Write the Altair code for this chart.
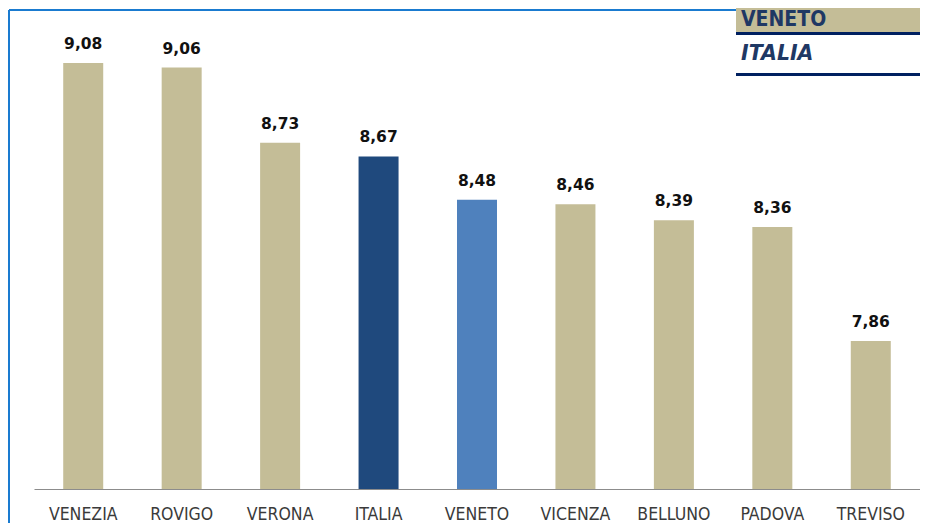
import altair as alt
import pandas as pd

# ---- data ----
categories = ["VENEZIA", "ROVIGO", "VERONA", "ITALIA", "VENETO", "VICENZA", "BELLUNO", "PADOVA", "TREVISO"]
values = [9.08, 9.06, 8.73, 8.67, 8.48, 8.46, 8.39, 8.36, 7.86]
bar_colors = ["#c4bd97", "#c4bd97", "#c4bd97", "#1f497d", "#4f81bd", "#c4bd97", "#c4bd97", "#c4bd97", "#c4bd97"]
legend_items = ["VENETO", "ITALIA"]

df = pd.DataFrame({
    "cat": categories,
    "val": values,
    "color": bar_colors,
    "label": [f"{v:.2f}".replace(".", ",") for v in values],
})

COND = "DejaVu Sans Condensed, Liberation Sans Narrow, DejaVu Sans"
YMIN, YMAX = 7.2105, 9.3126

x_enc = alt.X("cat:N", sort=categories, title=None,
              scale=alt.Scale(paddingInner=0.595, paddingOuter=0.2975),
              axis=alt.Axis(labelAngle=0, labelFont=COND, labelFontSize=17.5,
                            labelColor="#3a3a3a", ticks=False, tickSize=0,
                            labelPadding=16, domainColor="#8c8c8c", domainWidth=1.2,
                            grid=False))
y_enc = alt.Y("val:Q", title=None,
              scale=alt.Scale(domain=[YMIN, YMAX], zero=False, nice=False),
              axis=None)

base = alt.Chart(df)
bars = base.mark_bar(width=40, clip=True).encode(
    x=x_enc, y=y_enc, y2=alt.Y2(datum=YMIN), color=alt.Color("color:N", scale=None))
labels = base.mark_text(font="DejaVu Sans", fontWeight="bold", fontSize=15.5,
                        color="#111111", baseline="alphabetic", dy=-14).encode(
    x=alt.X("cat:N", sort=categories), y="val:Q", text="label:N")

one = pd.DataFrame({"k": [0]})
border_top = alt.Chart(one).mark_rule(color="#1a7bd0", strokeWidth=2).encode(
    x=alt.value(-25), x2=alt.value(702), y=alt.value(0))
border_left = alt.Chart(one).mark_rule(color="#1a7bd0", strokeWidth=2).encode(
    x=alt.value(-25), y=alt.value(0), y2=alt.value(520))
tan_box = alt.Chart(one).mark_rect(color="#c4bd97").encode(
    x=alt.value(702), x2=alt.value(900), y=alt.value(-2), y2=alt.value(22))
navy1 = alt.Chart(one).mark_rule(color="#002060", strokeWidth=3).encode(
    x=alt.value(702), x2=alt.value(900), y=alt.value(23.5))
navy2 = alt.Chart(one).mark_rule(color="#002060", strokeWidth=3).encode(
    x=alt.value(702), x2=alt.value(900), y=alt.value(64.5))
t_veneto = alt.Chart(pd.DataFrame({"t": [legend_items[0]]})).mark_text(
    font=COND, fontWeight="bold", fontSize=21, color="#1f3864",
    align="left", baseline="alphabetic").encode(
    x=alt.value(707), y=alt.value(16), text="t:N")
t_italia = alt.Chart(pd.DataFrame({"t": [legend_items[1]]})).mark_text(
    font="DejaVu Sans", fontWeight="bold", fontStyle="italic", fontSize=20.5, color="#1f3864",
    align="left", baseline="alphabetic").encode(
    x=alt.value(707), y=alt.value(50), text="t:N")

chart = alt.layer(bars, labels, border_top, border_left, tan_box, navy1, navy2,
                  t_veneto, t_italia).properties(
    width=886, height=479,
    autosize=alt.AutoSizeParams(type="none"),
    padding={"left": 26, "top": 2, "right": 0, "bottom": 34},
    background="white",
).configure_view(stroke=None)

chart.save("out.html", embed_options={"renderer": "svg", "actions": False})
